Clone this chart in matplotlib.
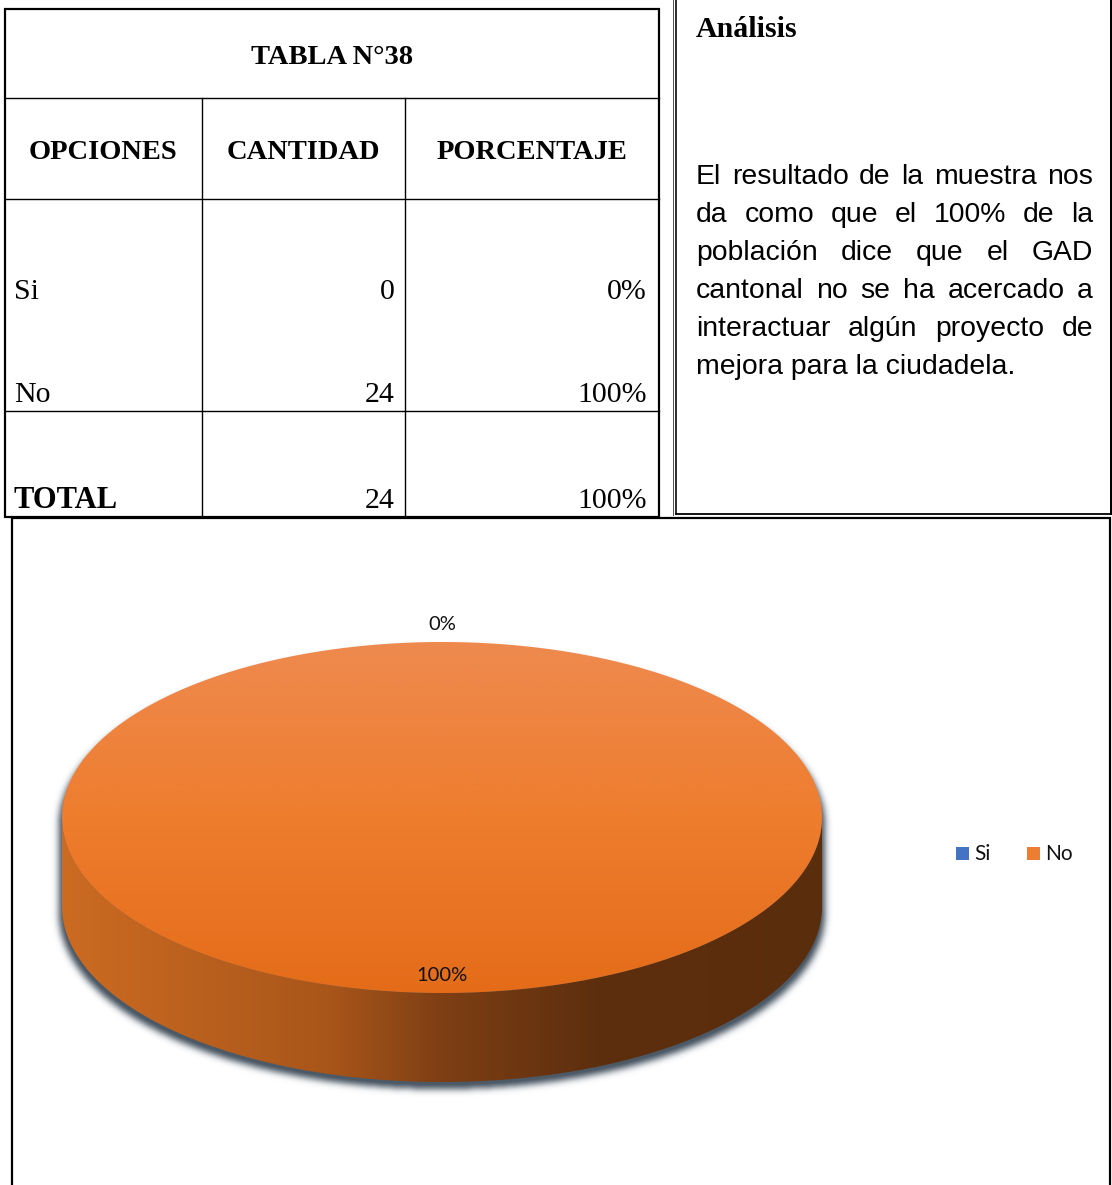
import numpy as np
import matplotlib
matplotlib.use("Agg")
import matplotlib.pyplot as plt
from matplotlib.patches import Polygon, Rectangle
from matplotlib.colors import LinearSegmentedColormap

# --- datos de la tabla 38 ---
titulo = "TABLA N°38"
encabezados = ["OPCIONES", "CANTIDAD", "PORCENTAJE"]
opciones = ["Si", "No"]
cantidades = [0, 24]
total = sum(cantidades)
colores = ["#4472C4", "#ED7D31"]

analisis_titulo = "Análisis"
analisis_lineas = [
    "El resultado de la muestra nos",
    "da como que el 100% de la",
    "población dice que el GAD",
    "cantonal no se ha acercado a",
    "interactuar algún proyecto de",
    "mejora para la ciudadela.",
]

porcentajes = ["%d%%" % round(100.0 * c / total) for c in cantidades]

W, H = 1112, 1185
fig = plt.figure(figsize=(W / 100, H / 100), dpi=100)
ax = fig.add_axes([0, 0, 1, 1])
ax.axis("off")

PX = 0.72  # 1 px en puntos


def linea(x0, y0, x1, y1, w=1.4, color="black"):
    ax.plot([x0, x1], [y0, y1], color=color, lw=w * PX, solid_capstyle="projecting")


# ---------------- tabla ----------------
cols = [5, 202, 405, 659]
filas = [9, 98, 199, 411, 517]
serif = "Liberation Serif"

for y in filas[1:-1]:
    linea(cols[0], y, cols[-1], y, 1.4)
for x in cols[1:-1]:
    linea(x, filas[1], x, filas[-1], 1.4)
ax.add_patch(Rectangle((cols[0], filas[0]), cols[-1] - cols[0], filas[-1] - filas[0],
                       fill=False, lw=2.2 * PX, ec="black"))

ax.text((cols[0] + cols[-1]) / 2, 64, titulo, family=serif, weight="bold",
        fontsize=20.5, ha="center", va="baseline")
for i, enc in enumerate(encabezados):
    ax.text((cols[i] + cols[i + 1]) / 2, 159, enc, family=serif, weight="bold",
            fontsize=20.5, ha="center", va="baseline")

bases = [299, 402]
for op, c, p, yb in zip(opciones, cantidades, porcentajes, bases):
    ax.text(cols[0] + 9, yb, op, family=serif, fontsize=21.5, va="baseline")
    ax.text(cols[2] - 10, yb, str(c), family=serif, fontsize=21.5, ha="right", va="baseline")
    ax.text(cols[3] - 12, yb, p, family=serif, fontsize=21.5, ha="right", va="baseline")

ax.text(cols[0] + 9, 508, "TOTAL", family=serif, weight="bold", fontsize=22, va="baseline")
ax.text(cols[2] - 10, 508, str(total), family=serif, fontsize=21.5, ha="right", va="baseline")
ax.text(cols[3] - 12, 508, "%d%%" % round(100.0 * total / total), family=serif,
        fontsize=21.5, ha="right", va="baseline")

# ---------------- cuadro de analisis ----------------
linea(673, -5, 673, 515, 1.0, "#555555")
linea(675.5, -5, 675.5, 514, 1.6)
linea(675.5, 514, 1110.5, 514, 1.8)
linea(1110.5, -5, 1110.5, 514, 2.0)

ax.text(696, 37, analisis_titulo, family=serif, weight="bold", fontsize=21.5, va="baseline")

# ---------------- marco del grafico ----------------
ax.add_patch(Rectangle((12, 518), 1098, 700, fill=False, lw=2.2 * PX, ec="black"))

# ---------------- pastel 3D ----------------
cx, cy, a, b, prof = 442, 817.5, 380, 175.5, 89

# sombra difuminada
xs = np.arange(30, 870) + 0.5
ys = np.arange(600, 1140) + 0.5
X, Y = np.meshgrid(xs, ys)
sa, soff = a + 3, 7
dx = ((X - cx) / sa) ** 2
mask = ((dx + ((Y - cy - soff) / b) ** 2 <= 1)
        | (dx + ((Y - cy - soff - prof) / b) ** 2 <= 1)
        | ((np.abs(X - cx) <= sa) & (Y >= cy + soff) & (Y <= cy + soff + prof)))
m = mask.astype(float)
k = np.exp(-0.5 * (np.arange(-12, 13) / 3.5) ** 2)
k /= k.sum()
m = np.apply_along_axis(lambda r: np.convolve(r, k, mode="same"), 1, m)
m = np.apply_along_axis(lambda c: np.convolve(c, k, mode="same"), 0, m)
sombra = np.zeros(m.shape + (4,))
sombra[..., 0], sombra[..., 1], sombra[..., 2] = 0.30, 0.35, 0.40
sombra[..., 3] = np.clip(1.1 * m, 0, 1)
ax.imshow(sombra, extent=(30, 870, 1140, 600), origin="upper", zorder=1,
          interpolation="bilinear")

cmap_lado = LinearSegmentedColormap.from_list(
    "lado", [(0.0, "#CC6B22"), (0.35, "#A9561A"), (0.5, "#7E3F14"),
             (0.7, "#5E2F0E"), (1.0, "#5A2D0D")])
cmap_tapa = LinearSegmentedColormap.from_list("tapa", ["#EE8A4F", "#EE7D2E", "#E46C19"])

t_ini = -np.pi / 2
acum = 0
etiquetas = []
for c, col, p in zip(cantidades, colores, porcentajes):
    t0 = t_ini + 2 * np.pi * acum / total
    acum += c
    t1 = t_ini + 2 * np.pi * acum / total
    tm = (t0 + t1) / 2
    frac = c / total
    r = 1.1 if frac < 0.05 else 0.9
    etiquetas.append((cx + r * a * np.cos(tm), cy + r * b * np.sin(tm), p))
    if c == 0:
        continue

    # cara lateral visible (mitad frontal)
    for kk in (-1, 0, 1):
        lo, hi = max(t0, 2 * np.pi * kk), min(t1, 2 * np.pi * kk + np.pi)
        if hi <= lo:
            continue
        tt = np.linspace(lo, hi, 300)
        arriba = np.column_stack([cx + a * np.cos(tt), cy + b * np.sin(tt)])
        abajo = np.column_stack([cx + a * np.cos(tt), cy + prof + b * np.sin(tt)])[::-1]
        lado = Polygon(np.vstack([arriba, abajo]), closed=True, fc="none", ec="none")
        ax.add_patch(lado)
        im = ax.imshow(np.linspace(0, 1, 256)[None, :], cmap=cmap_lado, aspect="auto",
                       extent=(cx - a, cx + a, cy + b + prof + 2, cy - 2), zorder=2)
        im.set_clip_path(lado)

    # tapa superior
    tt = np.linspace(t0, t1, 600)
    pts = np.column_stack([cx + a * np.cos(tt), cy + b * np.sin(tt)])
    if frac < 1:
        pts = np.vstack([[cx, cy], pts])
    tapa = Polygon(pts, closed=True, fc="none", ec="none")
    ax.add_patch(tapa)
    im = ax.imshow(np.linspace(0, 1, 256)[:, None], cmap=cmap_tapa, aspect="auto",
                   extent=(cx - a, cx + a, cy + b + 1, cy - b - 1), zorder=3)
    im.set_clip_path(tapa)

for x, y, p in etiquetas:
    ax.text(x, y, p, family="Lato", fontsize=14.5, ha="center", va="center",
            color="#111111", zorder=5)

# leyenda
for i, (op, col) in enumerate(zip(opciones, colores)):
    x0 = 956 + 71 * i
    ax.add_patch(Rectangle((x0, 847), 13, 13, fc=col, ec="none"))
    ax.text(x0 + 18, 854, op, family="Lato", fontsize=15, va="center", color="#111111")

ax.set_xlim(0, W)
ax.set_ylim(H, 0)
ax.set_aspect("auto")

# texto justificado del analisis
fig.canvas.draw()
rend = fig.canvas.get_renderer()
x_izq, x_der = 696, 1093
for i, ln in enumerate(analisis_lineas):
    yb = 184 + 38 * i
    if i == len(analisis_lineas) - 1:
        ax.text(x_izq, yb, ln, family="Liberation Sans", fontsize=20.4, va="baseline")
        continue
    palabras = ln.split()
    txts = [ax.text(0, yb, w, family="Liberation Sans", fontsize=20.4, va="baseline")
            for w in palabras]
    anchos = [t.get_window_extent(rend).width for t in txts]
    hueco = (x_der - x_izq - sum(anchos)) / (len(palabras) - 1)
    x = x_izq
    for t, w in zip(txts, anchos):
        t.set_x(x)
        x += w + hueco

fig.savefig("out.png", dpi=100)
